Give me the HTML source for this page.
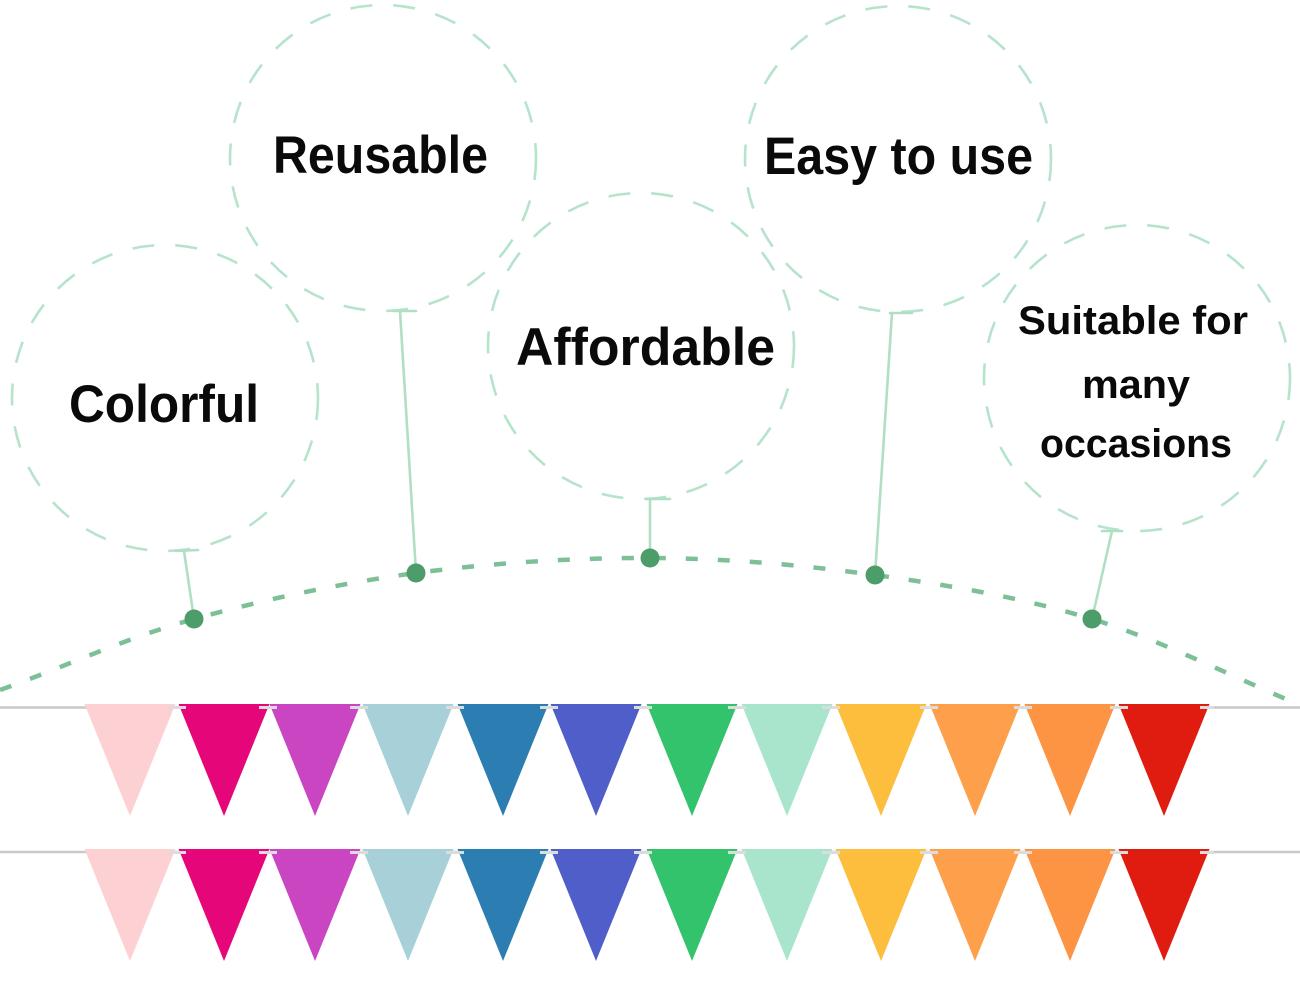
<!DOCTYPE html>
<html>
<head>
<meta charset="utf-8">
<style>
html,body{margin:0;padding:0;background:#fff;}
svg{display:block;}
text{font-family:"Liberation Sans","DejaVu Sans",sans-serif;font-weight:bold;fill:#0a0a0a;}
</style>
</head>
<body>
<svg width="1300" height="1000" viewBox="0 0 1300 1000" xmlns="http://www.w3.org/2000/svg">
  <rect width="1300" height="1000" fill="#fff"/>

  <!-- dashed circles -->
  <g fill="none" stroke="#b6e3cb" stroke-width="2.6" stroke-dasharray="22 21">
    <circle cx="165" cy="398" r="153"/>
    <circle cx="383" cy="158" r="153"/>
    <circle cx="641" cy="346" r="153"/>
    <circle cx="898" cy="159" r="153"/>
    <circle cx="1137" cy="378" r="153"/>
  </g>

  <!-- connectors -->
  <g stroke="#b0dfc4" stroke-width="2.6" fill="none" stroke-linecap="round">
    <line x1="176" y1="551" x2="198" y2="550"/>
    <line x1="184" y1="551" x2="194" y2="619"/>
    <line x1="393" y1="311" x2="416" y2="311"/>
    <line x1="400" y1="311" x2="416" y2="573"/>
    <line x1="647" y1="499" x2="670" y2="499"/>
    <line x1="650" y1="499" x2="650" y2="558"/>
    <line x1="890" y1="313" x2="912" y2="313"/>
    <line x1="892" y1="313" x2="875" y2="575"/>
    <line x1="1102" y1="531" x2="1122" y2="531"/>
    <line x1="1112" y1="531" x2="1092" y2="619"/>
  </g>

  <!-- dashed arc -->
  <path d="M0,690 C64.7,667 124.7,638.2 194,619 C263.3,599.8 340,583.2 416,573 C492,562.8 573.5,557.7 650,558 C726.5,558.3 801.3,564.8 875,575 C948.7,585.2 1021.2,597.3 1092,619 C1162.8,640.7 1230.7,676.3 1300,705"
        fill="none" stroke="#7dbf97" stroke-width="4.5" stroke-dasharray="12 20"/>

  <!-- dots -->
  <g fill="#4c9d6a">
    <circle cx="194" cy="619" r="9.5"/>
    <circle cx="416" cy="573" r="9.5"/>
    <circle cx="650" cy="558" r="9.5"/>
    <circle cx="875" cy="575" r="9.5"/>
    <circle cx="1092" cy="619" r="9.5"/>
  </g>

  <!-- labels -->
  <text x="69" y="422" font-size="53" textLength="190" lengthAdjust="spacingAndGlyphs">Colorful</text>
  <text x="273" y="173" font-size="53" textLength="215" lengthAdjust="spacingAndGlyphs">Reusable</text>
  <text x="516" y="365" font-size="53" textLength="259" lengthAdjust="spacingAndGlyphs">Affordable</text>
  <text x="764" y="174" font-size="53" textLength="269" lengthAdjust="spacingAndGlyphs">Easy to use</text>
  <text x="1018" y="334" font-size="40" textLength="230" lengthAdjust="spacingAndGlyphs">Suitable for</text>
  <text x="1082" y="398" font-size="40" textLength="108" lengthAdjust="spacingAndGlyphs">many</text>
  <text x="1040" y="457" font-size="40" textLength="192" lengthAdjust="spacingAndGlyphs">occasions</text>

  <!-- strings -->
  <line x1="0" y1="707.5" x2="1300" y2="707.5" stroke="#c9c9c9" stroke-width="2.5"/>
  <line x1="0" y1="852" x2="1300" y2="852" stroke="#c9c9c9" stroke-width="2.5"/>

  <!-- row 1 pennants -->
  <g>
    <polygon points="84.5,704 175.5,704 130,816" fill="#fdd1d4"/>
    <polygon points="178.5,704 269.5,704 224,816" fill="#e5067a"/>
    <polygon points="269.5,704 360.5,704 315,816" fill="#c945c1"/>
    <polygon points="362.5,704 453.5,704 408,816" fill="#a7d0d9"/>
    <polygon points="457.5,704 548.5,704 503,816" fill="#2b7db2"/>
    <polygon points="550.5,704 641.5,704 596,816" fill="#4f5ec9"/>
    <polygon points="646.5,704 737.5,704 692,816" fill="#34c36d"/>
    <polygon points="741.5,704 832.5,704 787,816" fill="#a9e5cd"/>
    <polygon points="835.5,704 926.5,704 881,816" fill="#fdbd3d"/>
    <polygon points="929.5,704 1020.5,704 975,816" fill="#fe9f4c"/>
    <polygon points="1024.5,704 1115.5,704 1070,816" fill="#fd9443"/>
    <polygon points="1118.5,704 1209.5,704 1164,816" fill="#e01c10"/>
  </g>
  <!-- row 2 pennants -->
  <g>
    <polygon points="84.5,849 175.5,849 130,961" fill="#fdd1d4"/>
    <polygon points="178.5,849 269.5,849 224,961" fill="#e5067a"/>
    <polygon points="269.5,849 360.5,849 315,961" fill="#c945c1"/>
    <polygon points="362.5,849 453.5,849 408,961" fill="#a7d0d9"/>
    <polygon points="457.5,849 548.5,849 503,961" fill="#2b7db2"/>
    <polygon points="550.5,849 641.5,849 596,961" fill="#4f5ec9"/>
    <polygon points="646.5,849 737.5,849 692,961" fill="#34c36d"/>
    <polygon points="741.5,849 832.5,849 787,961" fill="#a9e5cd"/>
    <polygon points="835.5,849 926.5,849 881,961" fill="#fdbd3d"/>
    <polygon points="929.5,849 1020.5,849 975,961" fill="#fe9f4c"/>
    <polygon points="1024.5,849 1115.5,849 1070,961" fill="#fd9443"/>
    <polygon points="1118.5,849 1209.5,849 1164,961" fill="#e01c10"/>
  </g>

  <!-- small clips -->
  <g fill="#dcdcdc">
    <rect x="168" y="706" width="18" height="3"/>
    <rect x="259" y="706" width="18" height="3"/>
    <rect x="350" y="706" width="18" height="3"/>
    <rect x="446" y="706" width="18" height="3"/>
    <rect x="540" y="706" width="18" height="3"/>
    <rect x="634" y="706" width="18" height="3"/>
    <rect x="728" y="706" width="18" height="3"/>
    <rect x="822" y="706" width="18" height="3"/>
    <rect x="920" y="706" width="18" height="3"/>
    <rect x="1014" y="706" width="18" height="3"/>
    <rect x="1110" y="706" width="18" height="3"/>
    <rect x="1200" y="706" width="14" height="3"/>
    <rect x="168" y="851" width="18" height="3"/>
    <rect x="259" y="851" width="18" height="3"/>
    <rect x="350" y="851" width="18" height="3"/>
    <rect x="446" y="851" width="18" height="3"/>
    <rect x="540" y="851" width="18" height="3"/>
    <rect x="634" y="851" width="18" height="3"/>
    <rect x="728" y="851" width="18" height="3"/>
    <rect x="822" y="851" width="18" height="3"/>
    <rect x="920" y="851" width="18" height="3"/>
    <rect x="1014" y="851" width="18" height="3"/>
    <rect x="1110" y="851" width="18" height="3"/>
    <rect x="1200" y="851" width="14" height="3"/>
  </g>
</svg>
</body>
</html>
